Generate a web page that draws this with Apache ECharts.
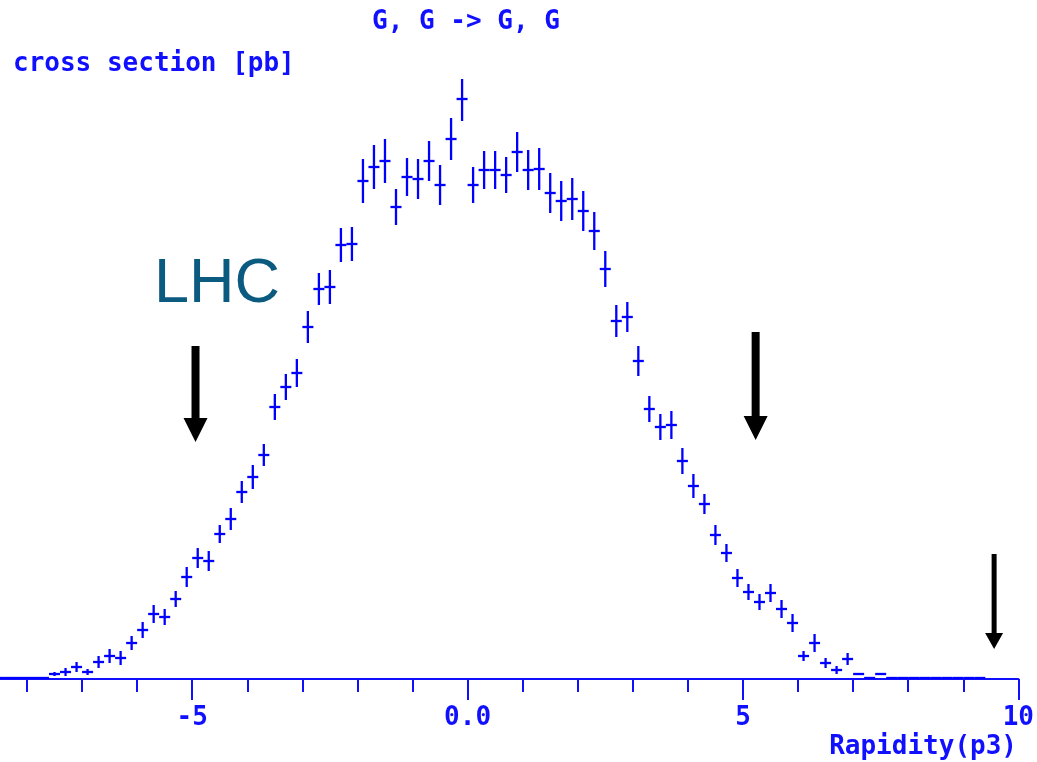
<!DOCTYPE html>
<html lang="en">

<head>
  <meta charset="UTF-8">
  <title>G, G -> G, G</title>
  <style>
    * {
      margin: 0;
      padding: 0;
    }
    body {
      background-color: #ffffff;
    }
    #main {
      width: 1037px;
      height: 762px;
    }
  </style>
</head>

<body>
  <div id="main"></div>
  <script type="text/javascript" src="https://cdn.jsdelivr.net/npm/echarts@6.0.0/dist/echarts.min.js"></script>
  <script>
    // bin centres of the rapidity histogram (bin width 0.2)
    var rapidity = [
      -8.5, -8.3, -8.1, -7.9, -7.7, -7.5, -7.3, -7.1, -6.9, -6.7,
      -6.5, -6.3, -6.1, -5.9, -5.7, -5.5, -5.3, -5.1, -4.9, -4.7,
      -4.5, -4.3, -4.1, -3.9, -3.7, -3.5, -3.3, -3.1, -2.9, -2.7,
      -2.5, -2.3, -2.1, -1.9, -1.7, -1.5, -1.3, -1.1, -0.9, -0.7,
      -0.5, -0.3, -0.1, 0.1, 0.3, 0.5, 0.7, 0.9, 1.1, 1.3,
      1.5, 1.7, 1.9, 2.1, 2.3, 2.5, 2.7, 2.9, 3.1, 3.3,
      3.5, 3.7, 3.9, 4.1, 4.3, 4.5, 4.7, 4.9, 5.1, 5.3,
      5.5, 5.7, 5.9, 6.1, 6.3, 6.5, 6.7, 6.9, 7.1, 7.3,
      7.5, 7.7, 7.9, 8.1, 8.3, 8.5, 8.7, 8.9, 9.1, 9.3
    ];
    // cross section per bin (arbitrary units, no scale on the plot)
    var crossSection = [
      1, 1, 1, 1, 1, 5, 7, 12, 7, 17,
      23, 21, 36, 49, 65, 62, 80, 102, 121, 118,
      145, 160, 187, 202, 224, 272, 292, 306, 352, 390,
      392, 434, 435, 498, 512, 518, 472, 502, 500, 518,
      494, 540, 580, 494, 509, 509, 504, 527, 509, 510,
      486, 478, 480, 468, 448, 410, 358, 362, 318, 270,
      252, 254, 218, 193, 175, 144, 126, 101, 87, 77,
      86, 70, 56, 23, 36, 16, 9, 20, 5, 1,
      5, 1, 1, 1, 1, 1, 1, 1, 1, 1
    ];
    // half length of the error bars
    var errors = [
      0, 0, 0, 0, 0, 2, 4, 5, 3, 6,
      7, 7, 7, 8, 9, 8, 8, 10, 10, 10,
      9, 11, 11, 12, 11, 13, 13, 14, 16, 16,
      17, 17, 17, 22, 22, 22, 18, 19, 20, 20,
      20, 21, 22, 18, 19, 19, 18, 20, 20, 21,
      20, 20, 21, 20, 19, 18, 16, 15, 15, 13,
      13, 14, 13, 12, 10, 10, 9, 9, 8, 8,
      9, 9, 9, 5, 9, 5, 4, 6, 1, 0,
      1, 0, 0, 0, 0, 0, 0, 0, 0, 0
    ];
    var majorTicks = [-5, 0, 5, 10];
    var minorTicks = [-8, -7, -6, -5, -4, -3, -2, -1, 0, 1, 2, 3, 4, 5, 6, 7, 8, 9, 10];

    // arrows drawn on the picture: x, top, tip (data units)
    var arrowX = [-4.94, 5.23, 9.56];
    var arrowTop = [333, 347, 125];
    var arrowTip = [237, 239, 30];

    var blue = '#1010ff';
    var monoFont = 'DejaVu Sans Mono';

    var myChart = echarts.init(document.getElementById('main'));

    var points = rapidity.map(function (x, i) {
      return [x, crossSection[i], errors[i]];
    });

    function renderCross(params, api) {
      var x = api.value(0);
      var y = api.value(1);
      var e = api.value(2);
      var top = api.coord([x, y + e]);
      var bot = api.coord([x, y - e]);
      var left = api.coord([x - 0.1, y]);
      var right = api.coord([x + 0.1, y]);
      var style = { stroke: '#0000ff', lineWidth: 2.3 };
      return {
        type: 'group',
        children: [
          { type: 'line', shape: { x1: top[0], y1: top[1], x2: bot[0], y2: bot[1] }, style: style },
          { type: 'line', shape: { x1: left[0], y1: left[1], x2: right[0], y2: right[1] }, style: style }
        ]
      };
    }

    var titleStyle = {
      fontFamily: monoFont,
      fontWeight: 'bold',
      fontSize: 26,
      color: blue
    };

    var option = {
      animation: false,
      backgroundColor: '#ffffff',
      title: [
        { text: 'G, G -> G, G', left: 372, top: 9, padding: 0, textStyle: titleStyle },
        { text: 'cross section [pb]', left: 13, top: 51, padding: 0, textStyle: titleStyle },
        { text: 'Rapidity(p3)', right: 20, top: 734, padding: 0, textStyle: titleStyle }
      ],
      grid: {
        left: 0,
        right: 18,
        top: 79,
        bottom: 83
      },
      xAxis: [
        {
          type: 'value',
          min: -8.49,
          max: 10,
          position: 'bottom',
          splitLine: { show: false },
          axisLine: { lineStyle: { color: blue, width: 2 } },
          axisTick: { customValues: majorTicks, length: 21, lineStyle: { color: blue, width: 2 } },
          axisLabel: {
            customValues: majorTicks,
            margin: 26,
            color: blue,
            fontFamily: monoFont,
            fontWeight: 'bold',
            fontSize: 26,
            formatter: function (v) {
              return v === 0 ? '0.0' : String(v);
            }
          }
        },
        {
          type: 'value',
          min: -8.49,
          max: 10,
          position: 'bottom',
          splitLine: { show: false },
          axisLine: { show: false },
          axisTick: { customValues: minorTicks, length: 13, lineStyle: { color: blue, width: 2 } },
          axisLabel: { show: false }
        }
      ],
      yAxis: {
        type: 'value',
        min: 0,
        max: 600,
        show: false
      },
      series: [
        {
          type: 'custom',
          xAxisIndex: 0,
          renderItem: renderCross,
          clip: true,
          data: points
        }
      ]
    };

    myChart.setOption(option);

    // arrows and the LHC label
    var graphics = [
      {
        type: 'text',
        style: {
          text: 'LHC',
          x: 154,
          y: 285,
          verticalAlign: 'middle',
          font: '63px "Liberation Sans", Arial, sans-serif',
          fill: '#0b5a80'
        }
      }
    ];
    var shaftW = [8, 8, 5];
    var headW = [24, 24, 18];
    var headL = [24, 24, 16];
    for (var i = 0; i < arrowX.length; i++) {
      var p1 = myChart.convertToPixel({ xAxisIndex: 0, yAxisIndex: 0 }, [arrowX[i], arrowTop[i]]);
      var p2 = myChart.convertToPixel({ xAxisIndex: 0, yAxisIndex: 0 }, [arrowX[i], arrowTip[i]]);
      var cx = p1[0];
      var yh = p2[1] - headL[i];
      graphics.push({
        type: 'polygon',
        shape: {
          points: [
            [cx - shaftW[i] / 2, p1[1]],
            [cx + shaftW[i] / 2, p1[1]],
            [cx + shaftW[i] / 2, yh],
            [cx + headW[i] / 2, yh],
            [cx, p2[1]],
            [cx - headW[i] / 2, yh],
            [cx - shaftW[i] / 2, yh]
          ]
        },
        style: { fill: '#000000' }
      });
    }
    myChart.setOption({ graphic: graphics });
  </script>

</body>

</html>
